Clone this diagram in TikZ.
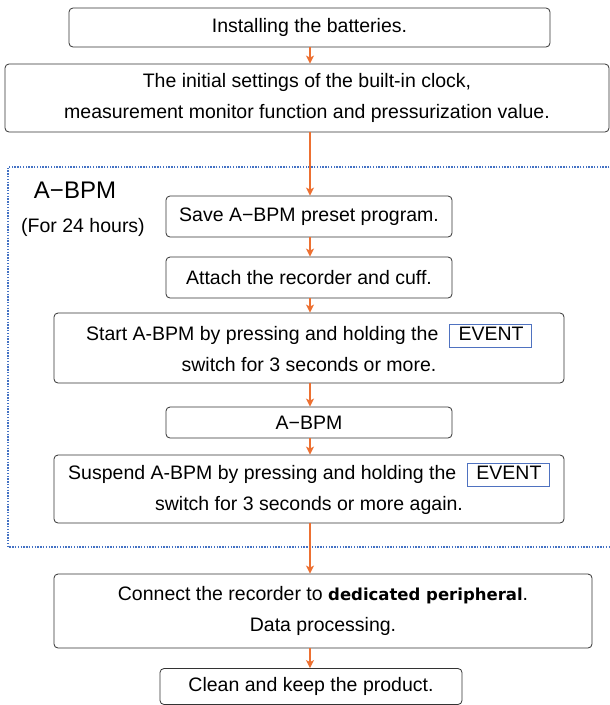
\documentclass[tikz,border=0pt]{standalone}
\usepackage{fontspec}
\setmainfont{Liberation Sans}
\newfontfamily\boldfam{DejaVu Sans}
\usetikzlibrary{arrows.meta,positioning}
\definecolor{arrorange}{HTML}{ED7031}
\definecolor{dotblue}{HTML}{4472C4}
\definecolor{evblue}{HTML}{4F72C0}
\newcommand{\evbox}{{\setlength{\fboxsep}{2.5pt}\setlength{\fboxrule}{0.8pt}\fcolorbox{evblue}{white}{\hspace{6pt}EVENT\vphantom{g}\hspace{5pt}}}}
\begin{document}
\begin{tikzpicture}[x=1pt,y=-1pt,
  stepbox/.style={draw=black!80,line width=0.8pt,rounded corners=4pt,align=center,inner sep=0pt,font=\fontsize{19.5}{31}\selectfont},
  arr/.style={draw=arrorange,line width=1.3pt,-{Stealth[length=8pt,width=8pt,inset=2pt]}}]
\useasboundingbox (0,0) rectangle (610,705);
\fill[white] (0,0) rectangle (610,705);
\coordinate (ax) at (310,0);
% dotted frame
\draw[dotblue,line width=1.4pt,dash pattern=on 1.4pt off 1.4pt] (615,167) -- (8,167) -- (8,547) -- (615,547);
\node[font=\fontsize{24}{28}\selectfont] (title) at (75,190) {A−BPM};
\node[font=\fontsize{19.5}{22}\selectfont] (sub) at (83,227) {(For 24 hours)};
% boxes
\node[stepbox,minimum width=481,minimum height=39] (b1) at (309.5,27.5) {Installing the batteries.};
\node[stepbox,minimum width=604,minimum height=68] (b2) at (307,98) {The initial settings of the built-in clock,\\measurement monitor function and pressurization value.};
\node[stepbox,minimum width=286,minimum height=41] (b3) at (309,216.5) {Save A−BPM preset program.};
\node[stepbox,minimum width=286,minimum height=41] (b4) at (309,277.5) {Attach the recorder and cuff.};
\node[stepbox,minimum width=510,minimum height=70] (b5) at (309,348) {Start A-BPM by pressing and holding the \ \evbox\\switch for 3 seconds or more.};
\node[stepbox,minimum width=286,minimum height=31] (b6) at (309,422.5) {A−BPM};
\node[stepbox,minimum width=510,minimum height=68] (b7) at (309,489) {Suspend A-BPM by pressing and holding the \ \evbox\\switch for 3 seconds or more again.};
\node[stepbox,minimum width=538,minimum height=74] (b8) at (323,611) {Connect the recorder to {\boldfam\bfseries\fontsize{16.5}{31}\selectfont dedicated peripheral}.\\Data processing.};
\node[stepbox,minimum width=302,minimum height=36] (b9) at (311,686.5) {Clean and keep the product.};
% arrows
\draw[arr] (b1.south -| ax) -- (b2.north -| ax);
\draw[arr] (b2.south -| ax) -- (b3.north -| ax);
\draw[arr] (b3.south -| ax) -- (b4.north -| ax);
\draw[arr] (b4.south -| ax) -- (b5.north -| ax);
\draw[arr] (b5.south -| ax) -- (b6.north -| ax);
\draw[arr] (b6.south -| ax) -- (b7.north -| ax);
\draw[arr] (b7.south -| ax) -- (b8.north -| ax);
\draw[arr] (b8.south -| ax) -- (b9.north -| ax);
\end{tikzpicture}
\end{document}
